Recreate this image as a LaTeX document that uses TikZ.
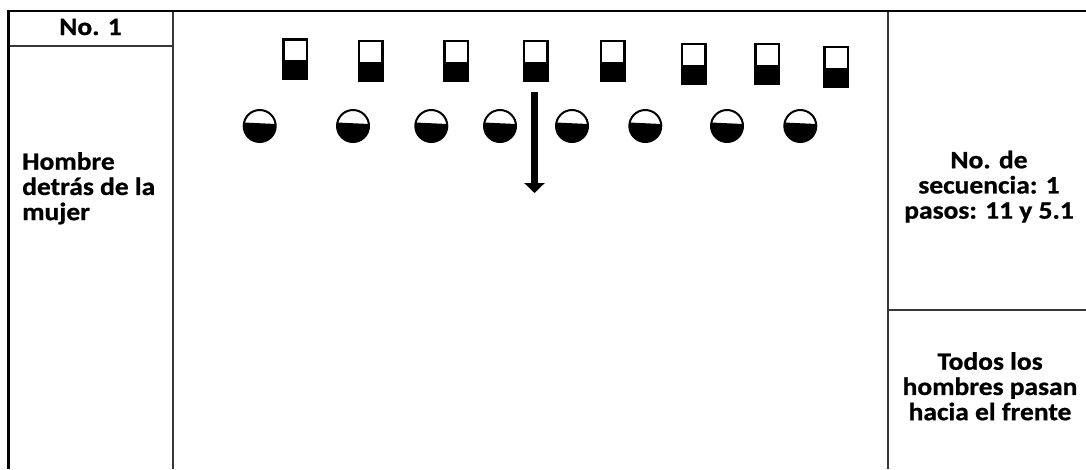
\documentclass[tikz,border=0pt]{standalone}
\usepackage{fontspec}
\setmainfont{Carlito}[FakeStretch=1.1,BoldFeatures={FakeBold=0.8}]
\usetikzlibrary{arrows.meta,calc}
\begin{document}
\begin{tikzpicture}[x=1pt,y=-1pt,
  frame/.style={line width=2.8pt,black},
  rule/.style={line width=1.7pt,black!78},
  label/.style={font=\bfseries\fontsize{25}{25.2}\selectfont,inner sep=0pt},
  man/.style={draw=black,line width=2.4pt,minimum width=23.6pt,minimum height=39.6pt,inner sep=0pt,
    path picture={\fill[black] ($(path picture bounding box.west)+(0,1)$) rectangle (path picture bounding box.south east);}},
  woman/.style={circle,draw=black,line width=2pt,minimum size=32pt,inner sep=0pt,
    path picture={\fill[black] ($(path picture bounding box.west)+(0,-3.5)$) -- ($(path picture bounding box.east)+(0,-2)$)
      -- (path picture bounding box.south east) -- (path picture bounding box.south west) -- cycle;}},
  move/.style={line width=6.5pt,-{Triangle[width=20pt,length=10pt]}}
]
\useasboundingbox (0,0) rectangle (1086,469);
\fill[white] (0,0) rectangle (1086,469);

% table grid
\draw[rule] (173,11) -- (173,469);
\draw[rule] (8.5,46) -- (173,46);
\draw[rule] (888,11) -- (888,469);
\draw[rule] (888,310) -- (1086,310);
\draw[frame] (8.5,469) -- (8.5,11) -- (1086,11);

% cell texts
\node[label,anchor=base] (num) at (90.5,35) {No. 1};
\node[label,anchor=north west,align=left] (role) at (22,152) {Hombre\\detrás de la\\mujer};
\node[label,anchor=north,align=center] (seq) at (989,150.5) {No. de\\secuencia: 1\\pasos: 11 y 5.1};
\node[label,anchor=north,align=center] (note) at (990,352) {Todos los\\hombres pasan\\hacia el frente};

% men
\node[man] (m1) at (295.3,59.2) {};
\node[man] (m2) at (370.5,60.8) {};
\node[man] (m3) at (456.3,60.8) {};
\node[man] (m4) at (535.8,60.8) {};
\node[man] (m5) at (612.5,60.8) {};
\node[man] (m6) at (693.7,63.8) {};
\node[man] (m7) at (767.2,63.8) {};
\node[man] (m8) at (836.3,66.7) {};

% women
\node[woman] (w1) at (259.7,126) {};
\node[woman] (w2) at (353,126) {};
\node[woman] (w3) at (431.3,126) {};
\node[woman] (w4) at (500,126) {};
\node[woman] (w5) at (572,126) {};
\node[woman] (w6) at (645.3,126) {};
\node[woman] (w7) at (727,126) {};
\node[woman] (w8) at (800.3,126) {};

% movement
\coordinate (start) at (534.5,92);
\coordinate (stop) at (534.5,193);
\draw[move] (start) -- (stop);
\end{tikzpicture}
\end{document}
